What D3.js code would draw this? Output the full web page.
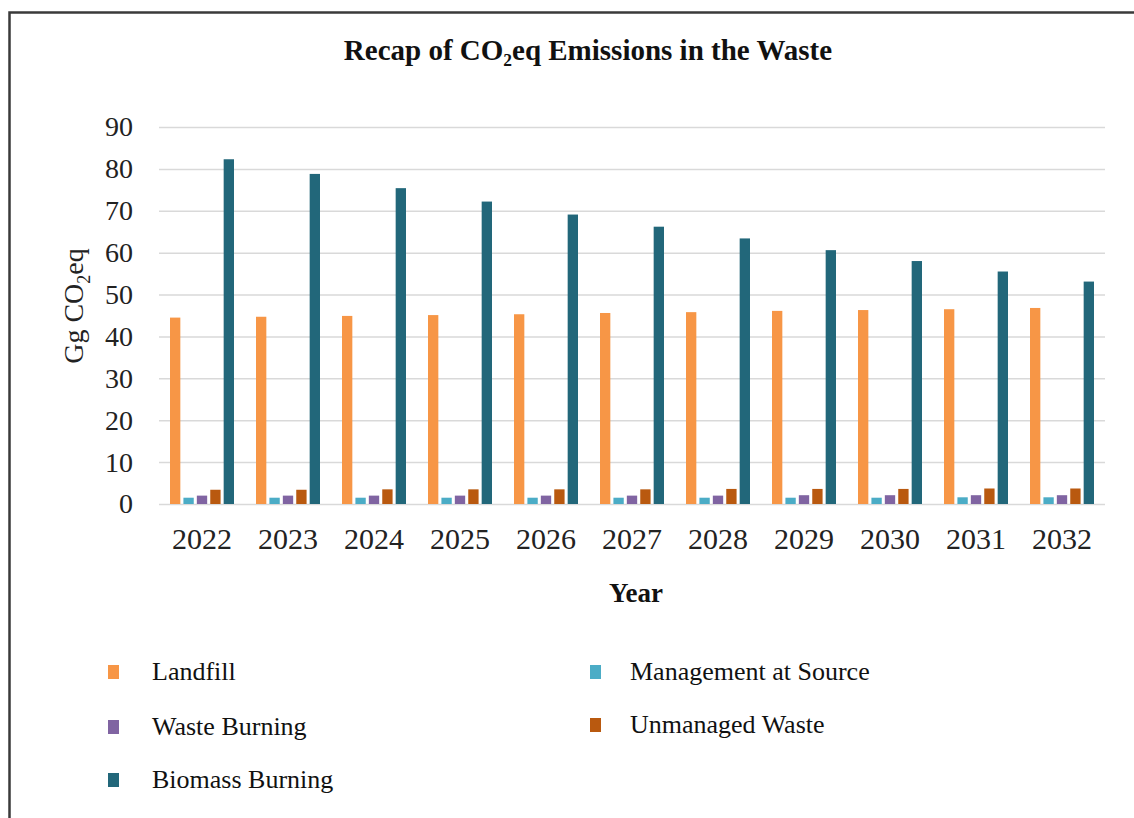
<html>
<head>
<meta charset="utf-8">
<title>Recap of CO2eq Emissions in the Waste</title>
<style>
  body { margin: 0; background: #fff; }
  svg { display: block; }
</style>
</head>
<body>
<script src="https://d3js.org/d3.v7.min.js"></script>
<script>
  // data
  var years = ['2022', '2023', '2024', '2025', '2026', '2027', '2028', '2029', '2030', '2031', '2032'];
  var seriesNames = ['Landfill', 'Management at Source', 'Waste Burning', 'Unmanaged Waste', 'Biomass Burning'];
  var landfill = [44.5, 44.7, 44.9, 45.1, 45.3, 45.6, 45.8, 46.1, 46.3, 46.5, 46.8];
  var managementAtSource = [1.5, 1.5, 1.5, 1.5, 1.5, 1.5, 1.5, 1.5, 1.5, 1.6, 1.6];
  var wasteBurning = [2.0, 2.0, 2.0, 2.0, 2.0, 2.0, 2.0, 2.1, 2.1, 2.1, 2.1];
  var unmanagedWaste = [3.4, 3.4, 3.5, 3.5, 3.5, 3.5, 3.6, 3.6, 3.6, 3.7, 3.7];
  var biomassBurning = [82.3, 78.8, 75.4, 72.2, 69.1, 66.2, 63.4, 60.6, 58.0, 55.5, 53.1];
  var yTicks = [0, 10, 20, 30, 40, 50, 60, 70, 80, 90];

  var colors = ['#f79646', '#4bacc6', '#8064a2', '#b9590f', '#22677a'];
  var seriesValues = [landfill, managementAtSource, wasteBurning, unmanagedWaste, biomassBurning];

  var rows = years.map(function(yr, i) {
    return seriesValues.map(function(vals, j) {
      return { year: yr, key: seriesNames[j], value: vals[i], color: colors[j] };
    });
  });

  var serif = '"Liberation Serif", "Times New Roman", serif';

  var svg = d3.select('body').append('svg')
    .attr('width', 1134)
    .attr('height', 818);

  svg.append('rect').attr('width', 1134).attr('height', 818).attr('fill', '#fff');

  // frame (top and left edges)
  svg.append('path')
    .attr('d', 'M9.5,818 L9.5,12.5 L1134,12.5')
    .attr('fill', 'none')
    .attr('stroke', '#3a3a3a')
    .attr('stroke-width', 2.5);

  // title
  var title = svg.append('text')
    .attr('x', 588)
    .attr('y', 60)
    .attr('text-anchor', 'middle')
    .style('font-family', serif)
    .style('font-weight', 'bold')
    .style('font-size', '29px')
    .style('fill', '#111');
  title.append('tspan').text('Recap of CO');
  title.append('tspan').text('₂');
  title.append('tspan').text('eq Emissions in the Waste');

  var plotLeft = 159, plotRight = 1105, plotTop = 127, plotBottom = 504;

  var x = d3.scaleBand().domain(years).range([plotLeft, plotRight]).padding(0);
  var xInner = d3.scaleBand().domain(seriesNames).range([11, 75]).paddingInner(0.23);
  var y = d3.scaleLinear().domain([0, 90]).range([plotBottom, plotTop]);

  // gridlines
  svg.append('g')
    .attr('transform', 'translate(' + plotLeft + ',0)')
    .call(d3.axisLeft(y).tickValues(yTicks).tickSize(-(plotRight - plotLeft)).tickFormat(''))
    .call(function(g) {
      g.select('.domain').remove();
      g.selectAll('line').attr('stroke', '#d9d9d9').attr('stroke-width', 1.5);
    });

  // y tick labels
  svg.append('g')
    .attr('transform', 'translate(133,0)')
    .call(d3.axisLeft(y).tickValues(yTicks).tickSize(0).tickPadding(0))
    .call(function(g) {
      g.select('.domain').remove();
      g.selectAll('text')
        .style('font-family', serif)
        .style('font-size', '28px')
        .style('fill', '#222');
    });

  // x tick labels
  svg.append('g')
    .attr('transform', 'translate(0,' + plotBottom + ')')
    .call(d3.axisBottom(x).tickSize(0).tickPadding(24))
    .call(function(g) {
      g.select('.domain').remove();
      g.selectAll('text')
        .style('font-family', serif)
        .style('font-size', '30px')
        .style('fill', '#222');
    });

  // bars
  var groups = svg.selectAll('g.year')
    .data(rows)
    .enter()
    .append('g')
    .attr('class', 'year')
    .attr('transform', function(d) {
      return 'translate(' + x(d[0].year) + ',0)';
    });

  groups.selectAll('rect')
    .data(function(d) { return d; })
    .enter()
    .append('rect')
    .attr('x', function(d) { return xInner(d.key); })
    .attr('y', function(d) { return y(d.value); })
    .attr('width', xInner.bandwidth())
    .attr('height', function(d) { return y(0) - y(d.value); })
    .style('fill', function(d) { return d.color; });

  // axis titles
  var yLabel = svg.append('text')
    .attr('transform', 'translate(83,306) rotate(-90)')
    .attr('text-anchor', 'middle')
    .style('font-family', serif)
    .style('font-size', '28px')
    .style('fill', '#222');
  yLabel.append('tspan').text('Gg CO');
  yLabel.append('tspan').attr('dy', 7).style('font-size', '18px').text('2');
  yLabel.append('tspan').attr('dy', -7).text('eq');

  svg.append('text')
    .attr('x', 636)
    .attr('y', 602)
    .attr('text-anchor', 'middle')
    .style('font-family', serif)
    .style('font-weight', 'bold')
    .style('font-size', '27px')
    .style('fill', '#111')
    .text('Year');

  // legend
  var legendPos = [
    { x: 108, y: 672 },
    { x: 590, y: 672 },
    { x: 108, y: 727 },
    { x: 590, y: 725 },
    { x: 108, y: 780 }
  ];
  var textX = [152, 630, 152, 630, 152];

  var legend = svg.selectAll('g.legend')
    .data(seriesNames)
    .enter()
    .append('g')
    .attr('class', 'legend');

  legend.append('rect')
    .attr('x', function(d, i) { return legendPos[i].x; })
    .attr('y', function(d, i) { return legendPos[i].y - 7; })
    .attr('width', 11)
    .attr('height', 14)
    .style('fill', function(d, i) { return colors[i]; });

  legend.append('text')
    .attr('x', function(d, i) { return textX[i]; })
    .attr('y', function(d, i) { return legendPos[i].y + 8; })
    .style('font-family', serif)
    .style('font-size', '26px')
    .style('fill', '#111')
    .text(function(d) { return d; });
</script>
</body>
</html>
